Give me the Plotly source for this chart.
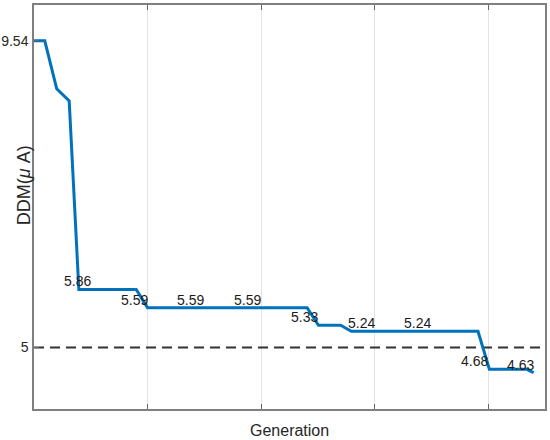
import plotly.graph_objects as go

# Line data (generation, DDM value)
gen = [0, 1.9, 4.0, 6.2, 7.9, 18.0, 20.0, 48.1, 50.1, 54.0, 55.9, 78.2, 80.2, 86.7, 88.0]
ddm = [9.54, 9.54, 8.83, 8.65, 5.86, 5.86, 5.59, 5.59, 5.33, 5.33, 5.24, 5.24, 4.68, 4.68, 4.63]

# Value labels
label_x = [10, 20, 30, 40, 50, 60, 70, 80, 88]
label_y = [5.86, 5.59, 5.59, 5.59, 5.33, 5.24, 5.24, 4.68, 4.63]
label_text = ["5.86", "5.59", "5.59", "5.59", "5.33", "5.24", "5.24", "4.68", "4.63"]

threshold = 5
x_ticks = [20, 40, 60, 80]
y_ticks = [5, 9.54]
y_tick_text = ["5", "9.54"]

FONT = "Liberation Sans, Arial"

fig = go.Figure()
fig.add_trace(go.Scatter(x=[0, 90], y=[threshold, threshold], mode="lines",
                         line=dict(color="#333333", width=2, dash="10px,6px"),
                         hoverinfo="skip", showlegend=False))
fig.add_trace(go.Scatter(x=gen, y=ddm, mode="lines",
                         line=dict(color="#0072BD", width=3),
                         showlegend=False))

for xv, yv, t in zip(label_x, label_y, label_text):
    fig.add_annotation(x=xv, y=yv, text=t, showarrow=False, xanchor="right",
                       yanchor="bottom", yshift=-2, xshift=2,
                       font=dict(family=FONT, size=14, color="#1a1a1a"))

fig.add_annotation(xref="paper", yref="paper", x=-0.043, y=0.554, text="DDM(<i>μ</i> A)",
                   textangle=-90, showarrow=False,
                   font=dict(family=FONT, size=18, color="#262626"))
fig.add_annotation(xref="paper", yref="paper", x=0.5, y=-0.052, text="Generation",
                   yanchor="middle", showarrow=False,
                   font=dict(family=FONT, size=16, color="#262626"))

fig.update_layout(
    width=550, height=440,
    margin=dict(l=34, r=5, t=5, b=31),
    plot_bgcolor="white", paper_bgcolor="white",
    font=dict(family=FONT, size=14, color="#262626"),
)
fig.update_xaxes(range=[0, 90], tickvals=x_ticks, showticklabels=False,
                 ticks="inside", ticklen=5, tickcolor="#666666",
                 showgrid=True, gridcolor="#e3e3e3", gridwidth=1,
                 showline=True, linecolor="#7f7f7f", linewidth=1.5, mirror="ticks",
                 zeroline=False, automargin=False)
fig.update_yaxes(range=[4.09, 10.07], tickvals=y_ticks, ticktext=y_tick_text,
                 ticks="inside", ticklen=5, tickcolor="#666666",
                 showgrid=False, ticklabelstandoff=1,
                 showline=True, linecolor="#7f7f7f", linewidth=1.5, mirror=True,
                 zeroline=False, automargin=False,
                 tickfont=dict(family=FONT, size=14, color="#262626"))

fig.write_html("out.html", config={"displayModeBar": False},
               post_script="document.body.style.margin='0px';document.body.style.padding='0px';")
